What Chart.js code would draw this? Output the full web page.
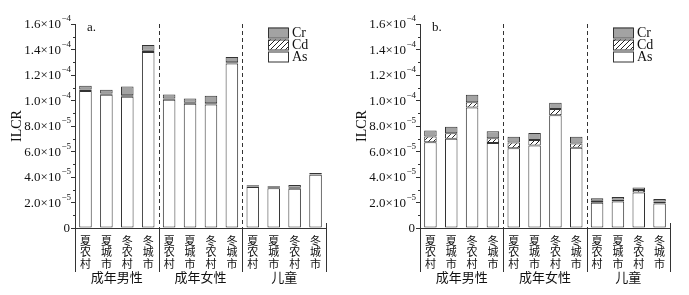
<!DOCTYPE html>
<html lang="zh">
<head>
<meta charset="UTF-8">
<title>ILCR</title>
<script src="https://cdn.jsdelivr.net/npm/chart.js"></script>
<style>
  body { margin: 0; background: #fff; }
  .panel { position: absolute; top: 0; height: 295px; }
  #boxA { left: 0; width: 345px; }
  #boxB { left: 345px; width: 344px; }
</style>
</head>
<body>
<div class="panel" id="boxA"><canvas id="chartA"></canvas></div>
<div class="panel" id="boxB"><canvas id="chartB"></canvas></div>
<script>
// all values in units of 1e-5
const seasons = ['夏农村', '夏城市', '冬农村', '冬城市'];
const groups = ['成年男性', '成年女性', '儿童'];
// y tick labels: base text and its superscript exponent
const yTickBase = ['0', '2.0×10', '4.0×10', '6.0×10', '8.0×10',
                   '1.0×10', '1.2×10', '1.4×10', '1.6×10'];
const yTickExp = ['', '−5', '−5', '−5', '−5', '−4', '−4', '−4', '−4'];

// panel a
const asA = [10.75, 10.45, 10.30, 13.80, 10.05, 9.75, 9.68, 12.90, 3.22, 3.12, 3.08, 4.17];
const cdA = [0.12, 0.10, 0.12, 0.10, 0.10, 0.08, 0.10, 0.10, 0.04, 0.04, 0.08, 0.04];
const crA = [0.28, 0.30, 0.68, 0.45, 0.32, 0.32, 0.60, 0.42, 0.10, 0.11, 0.21, 0.10];

// panel b
const asB = [6.72, 7.00, 9.46, 6.66, 6.25, 6.48, 8.85, 6.30, 1.98, 2.08, 2.79, 1.92];
const cdB = [0.45, 0.43, 0.40, 0.38, 0.45, 0.42, 0.48, 0.32, 0.15, 0.16, 0.19, 0.16];
const crB = [0.48, 0.52, 0.59, 0.54, 0.45, 0.55, 0.49, 0.53, 0.20, 0.19, 0.19, 0.19];

const labels = [];
groups.forEach(() => seasons.forEach(s => labels.push(s.split(''))));

const SERIF = '"Liberation Serif", "DejaVu Serif", serif';
const CJK = '"Noto Sans CJK SC", sans-serif';
const INK = '#333';
const CR_FILL = '#a3a3a3';

// diagonal hatch for Cd
const makeHatch = () => {
    const s = 5;
    const c = document.createElement('canvas');
    c.width = s; c.height = s;
    const g = c.getContext('2d');
    g.fillStyle = '#fff';
    g.fillRect(0, 0, s, s);
    g.strokeStyle = '#222';
    g.lineWidth = 1;
    g.beginPath();
    g.moveTo(0, s); g.lineTo(s, 0);
    g.moveTo(-1, 1); g.lineTo(1, -1);
    g.moveTo(s - 1, s + 1); g.lineTo(s + 1, s - 1);
    g.stroke();
    return g.createPattern(c, 'repeat');
};
const hatch = makeHatch();

// separators, y labels, group labels, legend, panel letter
const decor = {
    id: 'decor',
    afterDraw(chart, args, opts) {
        const ctx = chart.ctx;
        const area = chart.chartArea;
        const x = chart.scales.x;
        const y = chart.scales.y;
        const mid = (a, b) => (x.getPixelForValue(a) + x.getPixelForValue(b)) / 2;
        const seps = [mid(3, 4), mid(7, 8)];
        ctx.save();
        ctx.strokeStyle = INK;
        ctx.lineWidth = 1;

        // dashed separators in the plot
        ctx.setLineDash([4, 3]);
        seps.forEach(sx => {
            ctx.beginPath();
            ctx.moveTo(Math.round(sx) + 0.5, area.top);
            ctx.lineTo(Math.round(sx) + 0.5, area.bottom);
            ctx.stroke();
        });
        ctx.setLineDash([]);

        // solid separators under the axis
        [area.left, ...seps, area.right].forEach(sx => {
            ctx.beginPath();
            ctx.moveTo(Math.round(sx) + 0.5, area.bottom);
            ctx.lineTo(Math.round(sx) + 0.5, area.bottom + 44);
            ctx.stroke();
        });
        // small tick at right end of the x axis
        ctx.beginPath();
        ctx.moveTo(Math.round(area.right) + 0.5, area.bottom);
        ctx.lineTo(Math.round(area.right) + 0.5, area.bottom - 5);
        ctx.stroke();

        // minor y ticks
        for (let v = 1; v < 16; v += 2) {
            const py = Math.round(y.getPixelForValue(v)) + 0.5;
            ctx.beginPath();
            ctx.moveTo(area.left - 2, py);
            ctx.lineTo(area.left, py);
            ctx.stroke();
        }

        // y tick labels with superscript exponent
        ctx.fillStyle = '#111';
        ctx.textBaseline = 'middle';
        ctx.textAlign = 'right';
        yTickBase.forEach((base, i) => {
            const py = y.getPixelForValue(i * 2);
            const right = area.left - 4;
            ctx.font = '9px ' + SERIF;
            const ew = yTickExp[i] ? ctx.measureText(yTickExp[i]).width : 0;
            if (ew) ctx.fillText(yTickExp[i], right, py - 5);
            ctx.font = '13px ' + SERIF;
            ctx.fillText(base, right - ew - (ew ? 0.5 : 1), py + 1);
        });

        // group labels
        ctx.font = '13px ' + CJK;
        ctx.textAlign = 'center';
        groups.forEach((g, i) => {
            ctx.fillText(g, mid(i * 4 + 1, i * 4 + 2), area.bottom + 49);
        });

        // panel letter
        ctx.font = '13px ' + SERIF;
        ctx.textAlign = 'left';
        ctx.fillText(opts.letter, area.left + 12, area.top + 4);

        // legend
        const lx = 268, bw = 20, bh = 10, step = 12;
        const items = [['Cr', CR_FILL], ['Cd', hatch], ['As', '#fff']];
        ctx.font = '14px ' + SERIF;
        items.forEach(([name, fill], i) => {
            const ty = 27.5 + i * step;
            ctx.fillStyle = fill;
            ctx.fillRect(lx, ty, bw, bh);
            ctx.strokeStyle = INK;
            ctx.strokeRect(lx + 0.5, ty + 0.5, bw, bh);
            ctx.fillStyle = '#111';
            ctx.fillText(name, lx + bw + 4, ty + bh / 2 + 1);
        });
        ctx.restore();
    }
};

const makeChart = (id, asV, cdV, crV, letter) => {
    const bar = {
        borderColor: INK,
        borderWidth: 1,
        borderSkipped: false,
        barPercentage: 0.6,
        categoryPercentage: 1
    };
    return new Chart(document.getElementById(id), {
        type: 'bar',
        data: {
            labels: labels,
            datasets: [
                { label: 'As', data: asV, backgroundColor: '#fff', ...bar },
                { label: 'Cd', data: cdV, backgroundColor: hatch, ...bar },
                { label: 'Cr', data: crV, backgroundColor: CR_FILL, ...bar }
            ]
        },
        options: {
            responsive: true,
            maintainAspectRatio: false,
            animation: false,
            layout: { padding: { top: 24, right: 19, bottom: 0, left: 0 } },
            plugins: {
                legend: { display: false },
                tooltip: { enabled: false },
                decor: { letter: letter }
            },
            scales: {
                x: {
                    stacked: true,
                    grid: { display: false },
                    border: { color: INK },
                    ticks: {
                        autoSkip: false,
                        maxRotation: 0,
                        minRotation: 0,
                        padding: -1,
                        color: '#111',
                        font: { family: CJK, size: 11, lineHeight: 1.03 }
                    },
                    afterFit: s => { s.height = 67; }
                },
                y: {
                    stacked: true,
                    min: 0,
                    max: 16,
                    grid: { drawOnChartArea: false, tickLength: 4, color: INK },
                    border: { color: INK },
                    ticks: { stepSize: 2, display: false },
                    title: {
                        display: true,
                        text: 'ILCR',
                        color: '#111',
                        font: { family: SERIF, size: 14 },
                        padding: { top: 9, bottom: 0 }
                    },
                    afterFit: s => { s.width = 75; }
                }
            }
        },
        plugins: [decor]
    });
};

makeChart('chartA', asA, cdA, crA, 'a.');
makeChart('chartB', asB, cdB, crB, 'b.');
</script>
</body>
</html>
